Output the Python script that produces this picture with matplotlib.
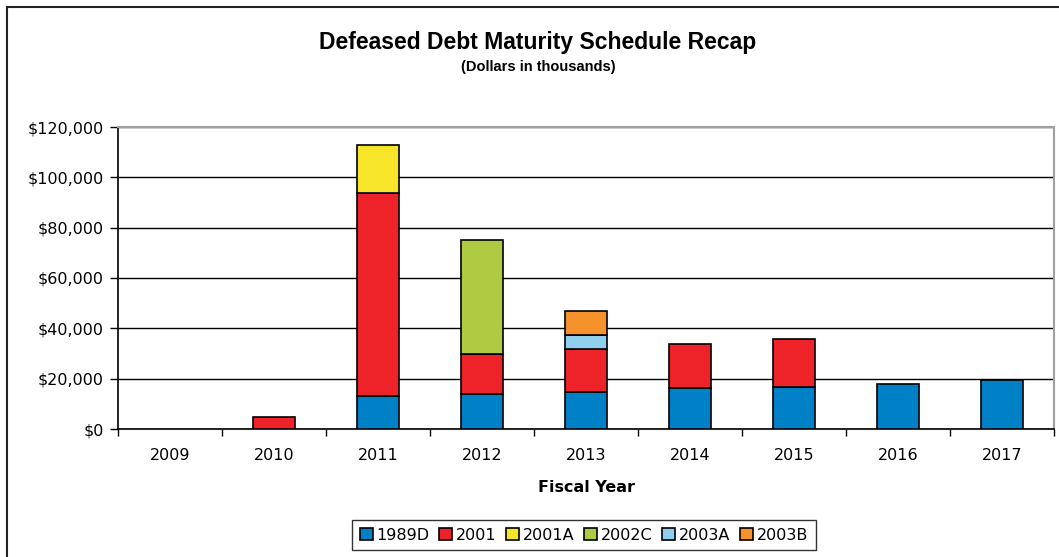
import numpy as np
import matplotlib.pyplot as plt
from matplotlib.patches import Rectangle
from matplotlib.ticker import FuncFormatter

years = ['2009', '2010', '2011', '2012', '2013', '2014', '2015', '2016', '2017']
series = ['1989D', '2001', '2001A', '2002C', '2003A', '2003B']

# amounts in thousands of dollars
s1989d = [0, 0, 13200, 13800, 14900, 16100, 16700, 18000, 19600]
s2001 = [0, 4900, 80400, 16200, 16700, 17500, 19100, 0, 0]
s2001a = [0, 0, 19400, 0, 0, 0, 0, 0, 0]
s2002c = [0, 0, 0, 45100, 0, 0, 0, 0, 0]
s2003a = [0, 0, 0, 0, 5900, 0, 0, 0, 0]
s2003b = [0, 0, 0, 0, 9200, 0, 0, 0, 0]

colors = ['#0080C6', '#EE2229', '#F6E528', '#AFCB41', '#90D0EE', '#F6922B']

fig = plt.figure(figsize=(10.59, 5.57), dpi=100, facecolor='w')
ax = fig.add_axes([118 / 1059, 1 - 429 / 557, (1054 - 118) / 1059, (429 - 127) / 557])

x = np.arange(len(years))
bottom = np.zeros(len(years))
for name, vals, c in zip(series, [s1989d, s2001, s2001a, s2002c, s2003a, s2003b], colors):
    vals = np.array(vals, dtype=float)
    nz = vals > 0
    # empty segments are skipped so no flat outline shows up
    ax.bar(x[nz], vals[nz], width=0.41, bottom=bottom[nz], color=c, edgecolor='black',
           linewidth=1.2, label=name, zorder=3)
    bottom += vals

ax.set_xlim(-0.5, len(years) - 0.5)
ax.set_ylim(0, 120000)
ax.set_yticks(np.arange(0, 120001, 20000))
ax.yaxis.set_major_formatter(FuncFormatter(lambda v, p: '${:,.0f}'.format(v)))
ax.set_xticks(x)
ax.set_xticklabels(years)
ax.set_xticks(np.arange(-0.5, len(years)), minor=True)
ax.tick_params(axis='x', which='major', length=0, pad=14, labelsize=11.5)
ax.tick_params(axis='x', which='minor', length=5, direction='out', width=1)
ax.tick_params(axis='y', length=6, width=1, labelsize=11.5, pad=4)
ax.grid(axis='y', color='black', linewidth=1, zorder=0)

for side in ['top', 'right']:
    ax.spines[side].set_color('#A0A0A0')
    ax.spines[side].set_linewidth(1.5)
for side in ['left', 'bottom']:
    ax.spines[side].set_color('black')
    ax.spines[side].set_linewidth(1.2)

ax.set_xlabel('Fiscal Year', fontsize=11.5, fontweight='bold', labelpad=12)

fig.text(538 / 1059, 1 - 43 / 557, 'Defeased Debt Maturity Schedule Recap',
         ha='center', va='center', fontsize=16.5, fontweight='bold', family='Liberation Sans')
fig.text(538 / 1059, 1 - 67 / 557, '(Dollars in thousands)',
         ha='center', va='center', fontsize=10.5, fontweight='bold', family='Liberation Sans')

leg = fig.legend(loc='center', bbox_to_anchor=(584 / 1059, 1 - 535 / 557), ncol=6,
                 frameon=True, fancybox=False, edgecolor='black', fontsize=11.5,
                 handlelength=0.8, handleheight=0.8, handletextpad=0.25,
                 columnspacing=0.6, borderpad=0.5, borderaxespad=0)
leg.get_frame().set_linewidth(1)

# outer chart border
fig.patches.append(Rectangle((7 / 1059, -0.1), 1.2, 1 - 7 / 557 + 0.1,
                             transform=fig.transFigure, fill=False,
                             edgecolor='#222222', linewidth=1.5))

fig.savefig('out.png', dpi=100)
